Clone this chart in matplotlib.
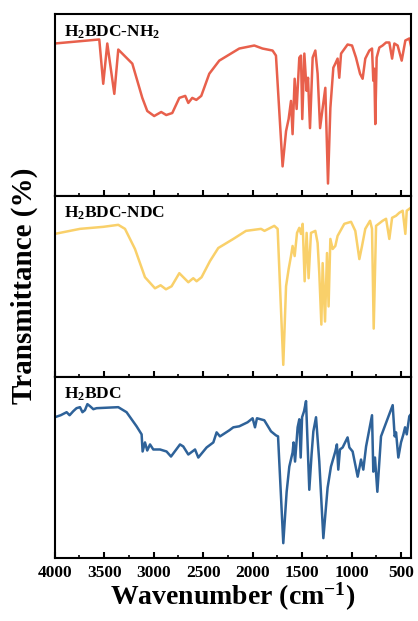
import numpy as np
import matplotlib
matplotlib.use('Agg')
import matplotlib.pyplot as plt
from matplotlib.ticker import MultipleLocator

plt.rcParams['font.family'] = ['Liberation Serif', 'DejaVu Serif']
plt.rcParams['font.weight'] = 'bold'
plt.rcParams['mathtext.fontset'] = 'custom'
plt.rcParams['mathtext.rm'] = 'Liberation Serif:bold'
plt.rcParams['mathtext.bf'] = 'Liberation Serif:bold'
plt.rcParams['mathtext.default'] = 'bf'

# H2BDC-NH2 (red), wavenumber / transmittance (a.u.)
wn_nh2 = [4000, 3550, 3510, 3469, 3398, 3358, 3216, 3115, 3065, 2995, 2924, 2873, 2812,
          2741, 2681, 2650, 2610, 2569, 2519, 2438, 2337, 2236, 2135, 1983, 1900, 1798,
          1764, 1697, 1662, 1636, 1612, 1596, 1575, 1555, 1528, 1511, 1498, 1477, 1454,
          1440, 1420, 1393, 1366, 1343, 1318, 1292, 1265, 1238, 1214, 1184, 1164, 1141,
          1124, 1106, 1040, 995, 955, 914, 888, 861, 820, 793, 780, 770, 760, 746, 719,
          686, 651, 618, 590, 567, 534, 493, 456, 416, 400]
t_nh2 = [151, 155, 111, 151, 101, 145, 131, 97, 84, 79, 83, 80, 82,
         97, 99, 92, 97, 95, 99, 121, 134, 140, 146, 149, 146, 144,
         139, 29, 64, 76, 94, 61, 116, 86, 137, 139, 76, 141, 104,
         117, 67, 137, 144, 121, 67, 87, 107, 12, 87, 127, 131, 136,
         117, 141, 150, 149, 137, 121, 116, 136, 144, 146, 114, 126, 71, 137, 147,
         149, 152, 152, 136, 151, 149, 134, 154, 156, 149]

# H2BDC-NDC (yellow)
wn_ndc = [4000, 3745, 3510, 3358, 3290, 3189, 3088, 2987, 2930, 2876, 2819, 2741, 2650,
          2600, 2566, 2516, 2431, 2347, 2195, 2067, 1915, 1880, 1781, 1747, 1690, 1662,
          1636, 1612, 1596, 1575, 1551, 1528, 1511, 1494, 1474, 1454, 1434, 1410, 1366,
          1343, 1326, 1305, 1292, 1268, 1248, 1232, 1214, 1191, 1164, 1141, 1073, 1005,
          962, 921, 894, 861, 813, 793, 776, 752, 686, 651, 618, 590, 550, 517, 483,
          456, 442, 400]
t_ndc = [142, 147, 149, 151, 147, 127, 99, 88, 91, 87, 90, 103, 94,
         98, 95, 99, 115, 128, 137, 145, 147, 145, 150, 147, 12, 90,
         107, 120, 130, 120, 143, 148, 142, 152, 95, 143, 98, 143, 145,
         133, 103, 52, 113, 55, 123, 70, 137, 127, 130, 140, 152, 154,
         145, 117, 130, 147, 155, 147, 48, 150, 155, 157, 137, 158, 160, 163, 165,
         142, 165, 168]

# H2BDC (blue)
wn_bdc = [4000, 3940, 3880, 3850, 3813, 3780, 3745, 3720, 3695, 3670, 3644, 3610, 3577,
          3358, 3274, 3173, 3122, 3112, 3088, 3065, 3037, 3004, 2936, 2870, 2825, 2734,
          2701, 2650, 2582, 2549, 2465, 2397, 2364, 2330, 2236, 2195, 2135, 2051, 2000,
          1976, 1956, 1882, 1814, 1764, 1743, 1690, 1656, 1629, 1596, 1586, 1571, 1545,
          1528, 1514, 1500, 1480, 1460, 1427, 1404, 1386, 1359, 1326, 1285, 1242, 1208,
          1164, 1148, 1134, 1117, 1090, 1040, 1022, 989, 938, 904, 881, 853, 793, 780,
          763, 739, 702, 668, 584, 564, 550, 527, 500, 476, 459, 442, 416, 400]
t_bdc = [140, 142, 145, 142, 146, 149, 150, 145, 147, 153, 151, 148, 149,
         150, 145, 131, 123, 106, 115, 107, 113, 108, 108, 106, 101, 113,
         111, 103, 108, 100, 110, 115, 125, 121, 127, 130, 131, 135, 139,
         130, 139, 137, 126, 122, 121, 15, 66, 91, 105, 115, 96, 130,
         138, 100, 140, 146, 156, 68, 103, 126, 140, 96, 20, 70, 91,
         106, 113, 88, 108, 110, 120, 110, 106, 81, 98, 88, 111, 142, 86,
         100, 66, 121, 130, 152, 121, 125, 100, 115, 123, 130, 123, 141, 143]

labels = [r'H$_{2}$BDC-NH$_{2}$', r'H$_{2}$BDC-NDC', r'H$_{2}$BDC']
colors = ['#E8604C', '#F9D06A', '#2E6299']
series = [(wn_nh2, t_nh2), (wn_ndc, t_ndc), (wn_bdc, t_bdc)]

fig, axes = plt.subplots(3, 1, figsize=(4.18, 6.21), dpi=100, sharex=True)
fig.subplots_adjust(left=0.131, right=0.983, top=0.977, bottom=0.101, hspace=0)

for ax, (wn, t), lab, c in zip(axes, series, labels, colors):
    ax.plot(wn, t, color=c, lw=1.8)
    ax.set_ylim(0, 180)
    ax.set_yticks([])
    ax.text(0.025, 0.95, lab, transform=ax.transAxes, fontsize=12.5,
            fontweight='bold', va='top', ha='left')
    for s in ax.spines.values():
        s.set_linewidth(1.5)
    ax.xaxis.set_major_locator(MultipleLocator(500))
    ax.xaxis.set_minor_locator(MultipleLocator(250))
    ax.tick_params(axis='x', which='major', direction='in', length=4, width=1.5,
                   labelsize=12.5, pad=5)
    ax.tick_params(axis='x', which='minor', direction='in', length=2.5, width=1.2)

axes[0].set_xlim(4000, 400)
for lbl in axes[2].get_xticklabels():
    lbl.set_fontweight('bold')

axes[2].set_xlabel(r'Wavenumber (cm$^{\mathbf{-1}}$)', fontsize=20, fontweight='bold', labelpad=0)
fig.text(0.058, 0.54, 'Transmittance (%)', rotation=90, fontsize=21,
         fontweight='bold', ha='center', va='center')

fig.savefig('out.png', dpi=100)
